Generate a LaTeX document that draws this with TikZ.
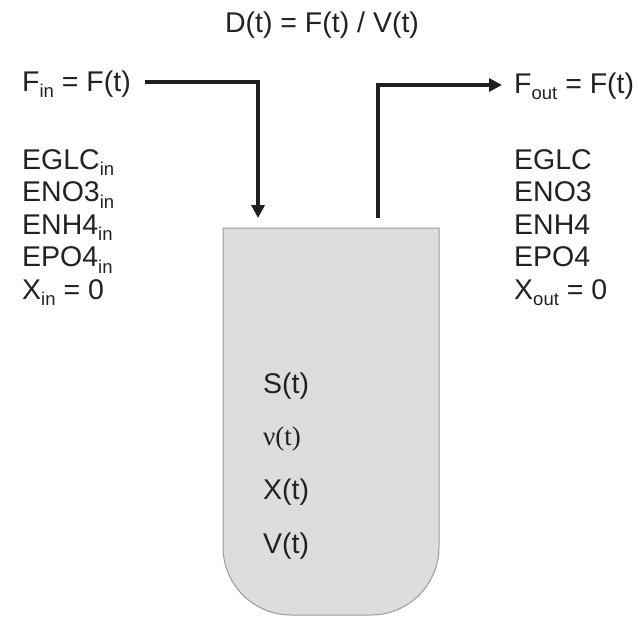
\documentclass[tikz,border=0pt]{standalone}
\usepackage{fontspec}
\setmainfont{Liberation Sans}
\newfontfamily\serifnu{Liberation Serif}
\usetikzlibrary{arrows.meta}
\definecolor{txt}{HTML}{222222}
\definecolor{vfill}{HTML}{DCDDDF}
\definecolor{vline}{HTML}{9A9A9A}
\tikzset{
  lbl/.style={inner sep=0pt, anchor=base west, text=txt, font=\fontsize{28.5}{35}\selectfont},
  flow/.style={line width=3.4pt, draw=black!88, -{Triangle[length=13pt,width=13pt]}},
  vessel/.style={fill=vfill, draw=vline, line width=1pt}
}
\newcommand{\sbs}[1]{\raisebox{-6.5pt}{\fontsize{18.5}{20}\selectfont #1}}
\begin{document}
\begin{tikzpicture}[x=1pt,y=1pt]
\useasboundingbox (0,0) rectangle (640,-619);
% vessel
\draw[vessel] (223,-228) [rounded corners=68pt] -- (223,-615) -- (439,-615) [sharp corners] -- (439,-228) -- cycle;
\coordinate (inlet) at (258,-218);
\coordinate (outlet) at (378,-218);
% top label
\node[lbl, anchor=base] (dil) at (322,-32) {D(t) = F(t) / V(t)};
% inflow
\node[lbl] (fin) at (22,-91) {F\sbs{in} = F(t)};
\coordinate (finend) at (145,-82);
\draw[flow] (finend) -| (inlet);
\node[lbl] (e1) at (22,-169) {EGLC\sbs{in}};
\node[lbl] (e2) at (22,-201.5) {ENO3\sbs{in}};
\node[lbl] (e3) at (22,-234) {ENH4\sbs{in}};
\node[lbl] (e4) at (22,-266.5) {EPO4\sbs{in}};
\node[lbl] (e5) at (22,-299) {X\sbs{in} = 0};
% outflow
\node[lbl] (fout) at (514,-93) {F\sbs{out} = F(t)};
\coordinate (foutend) at (502,-85);
\draw[flow] (outlet) |- (foutend);
\node[lbl] (o1) at (514,-169) {EGLC};
\node[lbl] (o2) at (514,-201.5) {ENO3};
\node[lbl] (o3) at (514,-234) {ENH4};
\node[lbl] (o4) at (514,-266.5) {EPO4};
\node[lbl] (o5) at (514,-299) {X\sbs{out} = 0};
% inside
\node[lbl] (s) at (263,-393) {S(t)};
\node[lbl, font=\serifnu\fontsize{27}{30}\selectfont] (nu) at (263,-445) {ν(t)};
\node[lbl] (x) at (263,-499) {X(t)};
\node[lbl] (v) at (263,-553) {V(t)};
\end{tikzpicture}
\end{document}
